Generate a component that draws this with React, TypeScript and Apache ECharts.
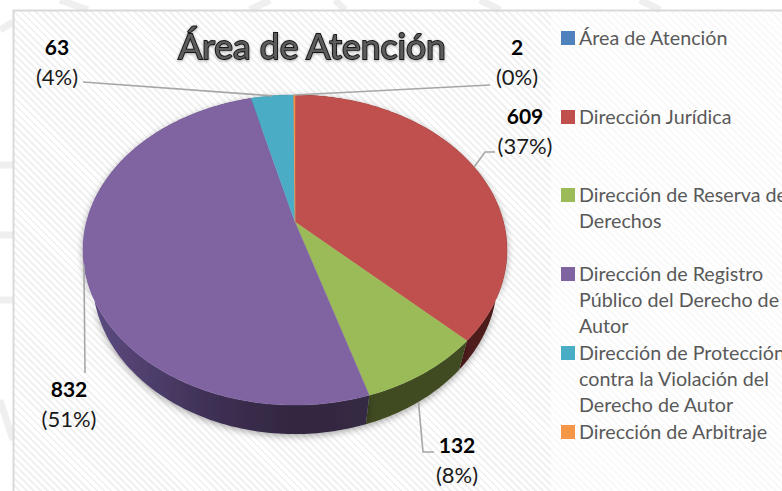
import React, { useEffect, useRef } from "react";
import * as echarts from "echarts";

const categories = [
  "Área de Atención",
  "Dirección Jurídica",
  "Dirección de Reserva de Derechos",
  "Dirección de Registro Público del Derecho de Autor",
  "Dirección de Protección contra la Violación del Derecho de Autor",
  "Dirección de Arbitraje",
];
const values = [0, 609, 132, 832, 63, 2];
const colors = ["#4f81bd", "#c0504d", "#9bbb59", "#8064a2", "#4bacc6", "#f79646"];
const legendLines = [
  ["Área de Atención"],
  ["Dirección Jurídica"],
  ["Dirección de Reserva de", "Derechos"],
  ["Dirección de Registro", "Público del Derecho de", "Autor"],
  ["Dirección de Protección", "contra la Violación del", "Derecho de Autor"],
  ["Dirección de Arbitraje"],
];
const total = values.reduce((a, b) => a + b, 0);

// Presentation only: pie projection and label placement
const HUB_X = 295, HUB_Y = 222, A = 208.5, B = 150, K = 0.1806, DEPTH = 29, WALL_SCALE = 0.955;
const labelPlace: Record<number, { x: number; y: number; elbow: number[][]; wall?: boolean }> = {
  1: { x: 525, y: 130, elbow: [[495, 152], [485, 152]] },
  2: { x: 457, y: 459, elbow: [[434, 452], [423, 452]], wall: true },
  3: { x: 69, y: 403, elbow: [[85, 373]] },
  4: { x: 57, y: 61, elbow: [[83, 82]] },
  5: { x: 517, y: 61, elbow: [[490, 85]] },
};
const wallFills: any[] = [
  "#2a4060",
  "#4f1f1c",
  "#3f4c20",
  {
    type: "linear", x: 0, y: 0, x2: 1, y2: 0,
    colorStops: [
      { offset: 0, color: "#5f4d85" },
      { offset: 0.45, color: "#3e3054" },
      { offset: 0.75, color: "#32263f" },
      { offset: 1, color: "#352a44" },
    ],
  },
  "#26566a",
  "#7c4a22",
];

function project(deg: number) {
  const t = (deg * Math.PI) / 180;
  const u = Math.sin(t), v = -Math.cos(t);
  const w = 1 - K * v;
  return [HUB_X + (A * u) / w, HUB_Y + (B * v) / w];
}
function lower(p: number[]) {
  return [HUB_X + (p[0] - HUB_X) * WALL_SCALE, p[1] + DEPTH];
}
function arcPoints(a0: number, a1: number) {
  const pts: number[][] = [];
  const n = Math.max(2, Math.ceil(Math.abs(a1 - a0)));
  for (let i = 0; i <= n; i++) pts.push(project(a0 + ((a1 - a0) * i) / n));
  return pts;
}
function angles(idx: number) {
  const before = values.slice(0, idx).reduce((a, b) => a + b, 0);
  return [(before / total) * 360, ((before + values[idx]) / total) * 360];
}

const seriesData = values.map((v, i) => ({ name: categories[i], value: [i, v] }));

function App() {
  const ref = useRef<HTMLDivElement>(null);
  useEffect(() => {
    const chart = echarts.init(ref.current!, undefined, { renderer: "svg" });
    const legendEls: any[] = [];
    const legendTop = [37, 116, 194, 273, 352, 431];
    const iconTop = [38, 117, 195, 274, 353, 432];
    legendLines.forEach((lines, i) => {
      legendEls.push({
        type: "rect",
        shape: { x: 561, y: iconTop[i] - 7, width: 14, height: 14 },
        style: { fill: colors[i] },
        silent: true,
      });
      legendEls.push({
        type: "text",
        x: 579,
        y: legendTop[i] - 13,
        style: {
          text: lines.join("\n"),
          fill: "#595959",
          font: "19.7px Lato, 'Open Sans', sans-serif",
          lineHeight: 26.2,
          textAlign: "left",
          textVerticalAlign: "top",
        },
        silent: true,
      });
    });
    const watermark = [
      [[60, 0], [88, 10]], [[250, 10], [270, 0]], [[335, 0], [345, 10]], [[480, 0], [500, 10]],
      [[640, 0], [660, 10]], [[0, 30], [13, 22]], [[0, 165], [13, 165]], [[0, 235], [13, 235]],
      [[0, 300], [13, 300]], [[0, 400], [13, 440]],
    ];
    const watermarkEls = watermark.map((p) => ({
      type: "polyline",
      shape: { points: p },
      style: { stroke: "#efefef", lineWidth: 7, fill: "none" },
      silent: true,
    }));

    chart.setOption({
      animation: false,
      backgroundColor: "transparent",
      title: {
        text: "Área de Atención",
        left: 307,
        top: 22,
        textAlign: "center",
        textStyle: {
          fontFamily: "Lato, 'Open Sans', sans-serif",
          fontSize: 35.5,
          fontWeight: "normal",
          color: "#5c5c5c",
          textBorderColor: "#141414",
          textBorderWidth: 1.8,
          textShadowColor: "rgba(0,0,0,0.35)",
          textShadowBlur: 3,
          textShadowOffsetY: 1,
        },
      },
      tooltip: { show: false },
      graphic: [
        ...watermarkEls,
        { type: "rect", shape: { x: 13.5, y: 10.5, width: 800, height: 500 }, style: { fill: "none", stroke: "#d9d9d9", lineWidth: 2 }, silent: true },
        ...legendEls,
      ],
      series: [
        {
          type: "custom",
          name: "Paredes",
          coordinateSystem: "none",
          silent: true,
          z: 2,
          data: seriesData,
          renderItem: (_p: any, api: any) => {
            const i = api.value(0), v = api.value(1);
            if (!v) return { type: "group", children: [] };
            const [a0, a1] = angles(i);
            const top = arcPoints(a0, a1);
            const bottom = top.map(lower).reverse();
            return {
              type: "polygon",
              shape: { points: [...top, ...bottom] },
              style: { fill: wallFills[i], shadowBlur: 7, shadowColor: "rgba(0,0,0,0.35)", shadowOffsetY: 2 },
            };
          },
        },
        {
          type: "custom",
          name: "Área de Atención",
          coordinateSystem: "none",
          silent: true,
          z: 3,
          data: seriesData,
          renderItem: (_p: any, api: any) => {
            const i = api.value(0), v = api.value(1);
            if (!v) return { type: "group", children: [] };
            const [a0, a1] = angles(i);
            return {
              type: "polygon",
              shape: { points: [[HUB_X, HUB_Y], ...arcPoints(a0, a1)] },
              style: { fill: colors[i], stroke: colors[i], lineWidth: 0.4 },
            };
          },
        },
        {
          type: "custom",
          name: "Etiquetas",
          coordinateSystem: "none",
          silent: true,
          z: 4,
          data: seriesData,
          renderItem: (_p: any, api: any) => {
            const i = api.value(0), v = api.value(1);
            const place = labelPlace[i];
            if (!v || !place) return { type: "group", children: [] };
            const [a0, a1] = angles(i);
            let anchor = project((a0 + a1) / 2);
            if (place.wall) anchor = lower(anchor);
            return {
              type: "group",
              children: [
                {
                  type: "polyline",
                  shape: { points: [...place.elbow, anchor] },
                  style: { stroke: "#a6a6a6", lineWidth: 1.6, fill: "none" },
                },
                {
                  type: "text",
                  x: place.x,
                  y: place.y,
                  style: {
                    text: `{v|${v}}\n{p|(${Math.round((v / total) * 100)}%)}`,
                    textAlign: "center",
                    textVerticalAlign: "middle",
                    rich: {
                      v: { fontFamily: "Lato, 'Open Sans', sans-serif", fontSize: 21, fontWeight: "bold", fill: "#000", color: "#000", lineHeight: 30 },
                      p: { fontFamily: "Lato, 'Open Sans', sans-serif", fontSize: 22, fill: "#1a1a1a", color: "#1a1a1a", lineHeight: 30 },
                    },
                  },
                },
              ],
            };
          },
        },
      ],
    });
    return () => chart.dispose();
  }, []);

  return (
    <div style={{ position: "fixed", left: 0, top: 0, width: 782, height: 491, background: "#fff", overflow: "hidden" }}>
      <div
        style={{
          position: "absolute", left: 14, top: 11, width: 537, height: 480,
          background: "repeating-linear-gradient(45deg,#ffffff 0 3px,#f1f1f1 3px 5px)",
        }}
      />
      <div
        style={{
          position: "absolute", left: 551, top: 11, width: 231, height: 480,
          background: "repeating-linear-gradient(45deg,#ffffff 0 3px,#f9f9f9 3px 5px)",
        }}
      />
      <div ref={ref} style={{ position: "absolute", left: 0, top: 0, width: 782, height: 491 }} />
    </div>
  );
}

export default App;
